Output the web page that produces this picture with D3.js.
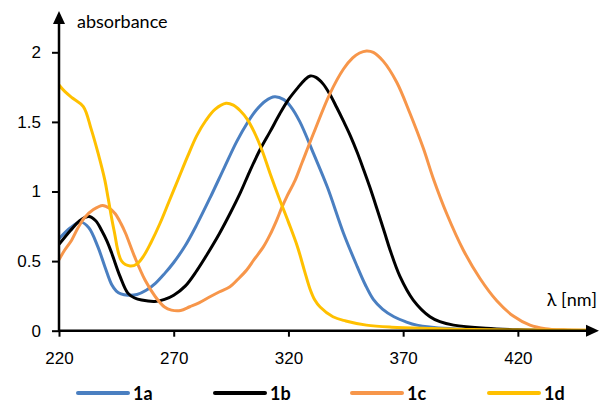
<!DOCTYPE html>
<html lang="en">
<head>
  <meta charset="UTF-8">
  <style>
    body { margin: 0; background: #fff; }
    svg { font-family: Lato, "Open Sans", sans-serif; }
    .tick text { font-size: 17px; fill: #000; }
    .axis path { display: none; }
    .axis line { stroke: #000; stroke-width: 2px; }
    .curve { fill: none; stroke-width: 3px; stroke-linejoin: round; }
    .legend text { font-size: 18px; font-weight: bold; }
  </style>
</head>
<body>
  <script src="https://d3js.org/d3.v7.min.js"></script>
  <svg></svg>
  <script>

// data (wavelength in nm, absorbance)
const wl1a  = [220, 225, 229.5, 233, 237, 240, 243, 245, 247, 250, 254, 258, 262, 266, 270, 275, 280, 286, 292, 297.5, 302, 306, 310, 314, 318, 321, 325, 331, 337, 344, 350, 353.5, 357, 361, 366, 371, 376, 390, 410, 450];
const abs1a = [0.66, 0.74, 0.78, 0.74, 0.60, 0.46, 0.33, 0.285, 0.265, 0.255, 0.26, 0.29, 0.34, 0.41, 0.49, 0.61, 0.76, 0.96, 1.17, 1.36, 1.49, 1.585, 1.65, 1.68, 1.66, 1.61, 1.50, 1.27, 1.03, 0.70, 0.46, 0.33, 0.225, 0.155, 0.10, 0.065, 0.04, 0.015, 0.005, 0.002];

const wl1b  = [220, 225, 229, 233, 236, 238.6, 241, 243, 246.6, 250, 253, 256, 261.8, 266, 270, 275, 280, 285, 290, 294.5, 299, 303, 307.6, 312, 316.3, 320, 324.3, 327, 329.5, 332, 335, 338, 341, 344, 347, 350, 352.7, 355.5, 358.5, 362, 364.3, 368.6, 374.4, 381.7, 386, 392, 406, 420, 450];
const abs1b = [0.62, 0.72, 0.79, 0.82, 0.79, 0.72, 0.64, 0.556, 0.39, 0.27, 0.235, 0.22, 0.21, 0.225, 0.255, 0.32, 0.43, 0.56, 0.70, 0.84, 0.99, 1.14, 1.30, 1.43, 1.56, 1.66, 1.75, 1.80, 1.83, 1.82, 1.775, 1.70, 1.605, 1.505, 1.40, 1.28, 1.16, 1.03, 0.88, 0.70, 0.58, 0.39, 0.22, 0.10, 0.065, 0.04, 0.017, 0.007, 0.002];

const wl1c  = [220, 222.5, 225.5, 228, 231, 235, 239, 242, 244.5, 247, 249, 253, 257.5, 262, 266, 269, 273, 277, 281, 285.8, 290, 294.5, 298, 301.8, 305, 309, 312, 314.9, 317, 319.3, 322.9, 326, 331, 338, 344, 348, 351, 354, 357, 361.4, 367.2, 373, 378.8, 383.2, 389, 396.2, 403.5, 410.8, 418, 425.3, 432, 440, 450];
const abs1c = [0.51, 0.58, 0.65, 0.73, 0.81, 0.87, 0.90, 0.88, 0.84, 0.77, 0.70, 0.53, 0.364, 0.244, 0.17, 0.148, 0.145, 0.172, 0.20, 0.244, 0.28, 0.316, 0.37, 0.436, 0.51, 0.60, 0.69, 0.795, 0.88, 0.963, 1.08, 1.21, 1.42, 1.70, 1.88, 1.96, 1.995, 2.01, 2.0, 1.935, 1.785, 1.56, 1.31, 1.09, 0.84, 0.58, 0.375, 0.215, 0.105, 0.04, 0.015, 0.006, 0.003];

const wl1d  = [220, 222.6, 226, 230.6, 234, 237, 240, 241.4, 244, 247.3, 251, 254, 257, 260, 264, 268, 272, 276, 280, 284, 288, 292.8, 296, 299, 302, 305, 308.4, 312, 316, 320, 324, 327, 329.4, 331.5, 333.8, 339.4, 345, 354, 365, 383, 400, 450];
const abs1d = [1.765, 1.717, 1.67, 1.61, 1.45, 1.277, 1.08, 0.953, 0.72, 0.50, 0.465, 0.48, 0.54, 0.63, 0.77, 0.93, 1.09, 1.25, 1.40, 1.51, 1.59, 1.634, 1.62, 1.58, 1.52, 1.43, 1.30, 1.13, 0.95, 0.78, 0.60, 0.43, 0.30, 0.22, 0.17, 0.10, 0.07, 0.04, 0.025, 0.015, 0.008, 0.003];

const names  = ["1a", "1b", "1c", "1d"];
const colors = ["#4a7fc1", "#000000", "#f7964a", "#ffc000"];
const xTicks = [220, 270, 320, 370, 420];
const yTicks = [0, 0.5, 1, 1.5, 2];

const w = 600;
const h = 402;

const series = [
  {name: names[0], color: colors[0], wl: wl1a, abs: abs1a},
  {name: names[1], color: colors[1], wl: wl1b, abs: abs1b},
  {name: names[2], color: colors[2], wl: wl1c, abs: abs1c},
  {name: names[3], color: colors[3], wl: wl1d, abs: abs1d}
];

const svg = d3.select("svg")
              .attr("width", w)
              .attr("height", h);

const xScale = d3.scaleLinear()
                 .domain([220, 450])
                 .range([59, 586.7]);

const yScale = d3.scaleLinear()
                 .domain([0, 2])
                 .range([330.7, 52.3]);

//axes with ticks only, the lines with arrows drawn below
svg.append("g")
   .attr("class", "axis")
   .attr("transform", `translate(0, ${yScale(0)})`)
   .call(d3.axisBottom(xScale).tickValues(xTicks).tickFormat(d3.format("d")).tickSize(6).tickPadding(15));

svg.append("g")
   .attr("class", "axis")
   .attr("transform", `translate(${xScale(220)}, 0)`)
   .call(d3.axisLeft(yScale).tickValues(yTicks).tickFormat(d => d).tickSize(7).tickPadding(11));

//curves
const line = d3.line()
               .x(d => xScale(d[0]))
               .y(d => yScale(d[1]))
               .curve(d3.curveCatmullRom.alpha(0.5));

svg.append("g")
   .selectAll("path")
   .data(series)
   .enter()
   .append("path")
   .attr("class", "curve")
   .attr("stroke", d => d.color)
   .attr("d", d => line(d.wl.map((x, i) => [x, d.abs[i]])));

//axis lines with arrow heads
const x0 = xScale(220), y0 = yScale(0);
svg.append("line")
   .attr("x1", x0).attr("y1", y0 + 1).attr("x2", x0).attr("y2", 20)
   .attr("stroke", "#000").attr("stroke-width", 2.5);
svg.append("path")
   .attr("d", `M${x0},11 L${x0 - 6},24 L${x0 + 6},24 Z`)
   .attr("fill", "#000");

svg.append("line")
   .attr("x1", x0 - 1).attr("y1", y0).attr("x2", 590).attr("y2", y0)
   .attr("stroke", "#000").attr("stroke-width", 2.5);
svg.append("path")
   .attr("d", `M599,${y0} L586,${y0 - 6} L586,${y0 + 6} Z`)
   .attr("fill", "#000");

//axis titles
svg.append("text")
   .attr("x", 77)
   .attr("y", 28)
   .attr("font-size", 18)
   .text("absorbance");

svg.append("text")
   .attr("x", 597)
   .attr("y", 306)
   .attr("font-size", 18)
   .attr("text-anchor", "end")
   .text("λ [nm]");

//legend
const legend = svg.append("g")
                  .attr("class", "legend")
                  .selectAll("g")
                  .data(series)
                  .enter()
                  .append("g")
                  .attr("transform", (d, i) => `translate(${78 + i * 137}, 393)`);

legend.append("line")
      .attr("x1", 0).attr("x2", 50)
      .attr("stroke", d => d.color)
      .attr("stroke-width", 4)
      .attr("stroke-linecap", "round");

legend.append("text")
      .attr("x", 55)
      .attr("y", 6.5)
      .text(d => d.name);

  </script>
</body>
</html>
